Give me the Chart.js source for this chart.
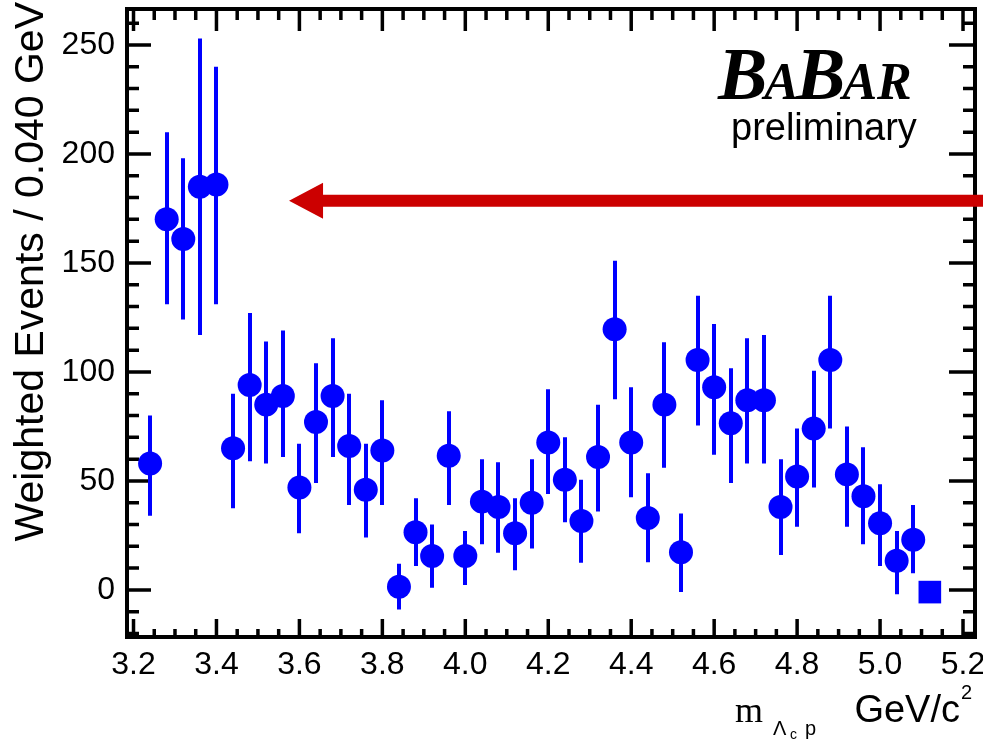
<!DOCTYPE html>
<html>
<head>
<meta charset="utf-8">
<script src="https://cdn.jsdelivr.net/npm/chart.js@4.4.1/dist/chart.umd.min.js"></script>
<style>
  body { margin: 0; background: #fff; }
  #wrap { width: 983px; height: 740px; }
</style>
</head>
<body>
<div id="wrap"><canvas id="massChart" width="983" height="740"></canvas></div>
<script>
// bin centres (GeV/c^2), 0.040 GeV wide
const mass = [3.24, 3.28, 3.32, 3.36, 3.40, 3.44, 3.48, 3.52, 3.56, 3.60, 3.64, 3.68,
              3.72, 3.76, 3.80, 3.84, 3.88, 3.92, 3.96, 4.00, 4.04, 4.08, 4.12, 4.16,
              4.20, 4.24, 4.28, 4.32, 4.36, 4.40, 4.44, 4.48, 4.52, 4.56, 4.60, 4.64,
              4.68, 4.72, 4.76, 4.80, 4.84, 4.88, 4.92, 4.96, 5.00, 5.04, 5.08, 5.12];
const events = [58, 170, 161, 185, 186, 65, 94, 85, 89, 47, 77, 89,
                66, 46, 64, 1.5, 26.5, 15.6, 61.5, 15.6, 40.5, 38, 26, 40,
                67.6, 50.5, 31.6, 61, 119.6, 67.6, 33, 85, 17.3, 105.5, 93, 76.5,
                87, 87, 38, 52, 74, 105.5, 53, 43, 30.6, 13.4, 23, -1];
const errUp = [22, 40, 37, 68, 54, 25, 33, 29, 30, 20, 27, 26.5,
               24, 21, 23, 10.5, 15.5, 14.4, 20.5, 11.4, 19.5, 20.6, 16, 20,
               24.4, 19.5, 18.9, 24, 31.4, 25.4, 20.5, 28.6, 17.7, 29.5, 29, 25.2,
               28.5, 30, 22, 22, 26.5, 29.5, 22, 22.5, 17.9, 13.6, 16, 0];
const errDown = [24, 39, 37, 68, 55, 27.5, 35, 27, 28, 21, 28, 28,
                 27, 22, 25, 10.5, 15.5, 14.6, 22.5, 13.3, 19.5, 21, 17, 21,
                 23.6, 19.5, 19.1, 25, 32.1, 25.1, 20.3, 29, 18.3, 30.1, 31, 27.5,
                 29, 29, 22, 23, 27, 31.5, 24, 22, 19.6, 15.4, 15.4, 0];
const xTickStep = 0.2;
const yTickStep = 50;

const BLUE = '#0000ff';
const binHalf = 0.02;

const errorBars = {
    id: 'errorBars',
    beforeDatasetsDraw(chart) {
        const ctx = chart.ctx, xs = chart.scales.x, ys = chart.scales.y;
        ctx.save();
        ctx.strokeStyle = BLUE;
        ctx.lineWidth = 4;
        mass.forEach((m, i) => {
            if (errUp[i] === 0 && errDown[i] === 0) return;
            const px = Math.round(xs.getPixelForValue(m));
            const py = ys.getPixelForValue(events[i]);
            ctx.beginPath();
            ctx.moveTo(px, ys.getPixelForValue(events[i] + errUp[i]));
            ctx.lineTo(px, ys.getPixelForValue(events[i] - errDown[i]));
            ctx.moveTo(xs.getPixelForValue(m - binHalf), py);
            ctx.lineTo(xs.getPixelForValue(m + binHalf), py);
            ctx.stroke();
        });
        ctx.restore();
    }
};

// frame with inward ticks on all four sides
const frame = {
    id: 'frame',
    beforeDatasetsDraw(chart) {
        const ctx = chart.ctx, a = chart.chartArea;
        const xs = chart.scales.x, ys = chart.scales.y;
        ctx.save();
        ctx.strokeStyle = '#000';
        ctx.lineWidth = 4;
        ctx.strokeRect(a.left, a.top, a.right - a.left, a.bottom - a.top);
        ctx.lineWidth = 3.5;
        ctx.beginPath();
        const isMajor = (v, step) => Math.abs(v / step - Math.round(v / step)) < 1e-6;
        for (let v = 3.15; v <= 5.25; v += 0.05) {
            const val = Math.round(v * 100) / 100;
            if (val < xs.min || val > xs.max) continue;
            const px = xs.getPixelForValue(val);
            const maj = isMajor(val, xTickStep);
            ctx.moveTo(px, a.bottom); ctx.lineTo(px, a.bottom - (maj ? 18 : 8));
            ctx.moveTo(px, a.top); ctx.lineTo(px, a.top + (maj ? 22 : 11));
        }
        for (let v = -20; v <= 260; v += 10) {
            const py = ys.getPixelForValue(v);
            const maj = isMajor(v, yTickStep);
            ctx.moveTo(a.left, py); ctx.lineTo(a.left + (maj ? 24 : 12), py);
            ctx.moveTo(a.right, py); ctx.lineTo(a.right - (maj ? 26 : 12), py);
        }
        ctx.stroke();
        ctx.restore();
    }
};

const decorations = {
    id: 'decorations',
    afterDraw(chart) {
        const ctx = chart.ctx, xs = chart.scales.x, ys = chart.scales.y;
        ctx.save();
        ctx.fillStyle = '#000';

        // y axis title
        ctx.save();
        ctx.translate(43, 2);
        ctx.rotate(-Math.PI / 2);
        ctx.textAlign = 'right';
        ctx.font = '41px "Liberation Sans"';
        ctx.fillText('Weighted Events / 0.040 GeV', 0, 0);
        ctx.restore();

        // x axis title
        ctx.textAlign = 'left';
        ctx.font = '36px "Liberation Serif"';
        ctx.fillText('m', 735, 722);
        ctx.font = '20px "Liberation Sans"';
        ctx.fillText('\u039B', 773, 735);
        ctx.font = '14px "Liberation Sans"';
        ctx.fillText('c', 790, 739);
        ctx.font = '20px "Liberation Sans"';
        ctx.fillText('p', 805, 735);
        ctx.textAlign = 'right';
        ctx.font = '38px "Liberation Sans"';
        ctx.fillText('GeV/c', 960, 722);
        ctx.textAlign = 'left';
        ctx.font = '20px "Liberation Sans"';
        ctx.fillText('2', 961, 699);

        // BaBar logo
        let x = 718;
        const parts = [['B', 74], ['A', 52], ['B', 74], ['AR', 52]];
        parts.forEach(([t, s]) => {
            ctx.font = 'italic bold ' + s + 'px "Liberation Serif"';
            ctx.fillText(t, x, 99);
            x += ctx.measureText(t).width - 3;
        });
        ctx.font = '38px "Liberation Sans"';
        ctx.fillText('preliminary', 731, 140);

        // red arrow
        const tipX = xs.getPixelForValue(3.575);
        const ay = ys.getPixelForValue(178.5);
        ctx.fillStyle = '#cc0000';
        ctx.beginPath();
        ctx.moveTo(tipX, ay);
        ctx.lineTo(tipX + 34, ay - 18);
        ctx.lineTo(tipX + 34, ay - 6);
        ctx.lineTo(chart.width, ay - 6);
        ctx.lineTo(chart.width, ay + 6);
        ctx.lineTo(tipX + 34, ay + 6);
        ctx.lineTo(tipX + 34, ay + 18);
        ctx.closePath();
        ctx.fill();
        ctx.restore();
    }
};

const points = mass.map((m, i) => ({ x: m, y: events[i] }));

const noPad = s => {
    s.paddingLeft = 0; s.paddingRight = 0; s.paddingTop = 0; s.paddingBottom = 0;
};

new Chart(document.getElementById('massChart').getContext('2d'), {
    type: 'scatter',
    data: {
        datasets: [{
            data: points,
            backgroundColor: BLUE,
            borderWidth: 0,
            pointStyle: c => (errUp[c.dataIndex] === 0 ? 'rect' : 'circle'),
            pointRadius: c => (errUp[c.dataIndex] === 0 ? 16 : 12)
        }]
    },
    options: {
        responsive: false,
        animation: false,
        events: [],
        layout: { autoPadding: false, padding: { top: 9, right: 8, left: 0, bottom: 0 } },
        plugins: { legend: { display: false }, tooltip: { enabled: false } },
        scales: {
            x: {
                type: 'linear',
                min: 3.1843,
                max: 5.2289,
                grid: { display: false, drawTicks: false },
                border: { display: false },
                ticks: {
                    stepSize: xTickStep,
                    includeBounds: false,
                    padding: 9,
                    color: '#000',
                    font: { family: 'Liberation Sans', size: 32 },
                    callback: v => v.toFixed(1)
                },
                afterFit: s => { s.height = 103; noPad(s); }
            },
            y: {
                min: -21.6,
                max: 266.5,
                grid: { display: false, drawTicks: false },
                border: { display: false },
                ticks: {
                    stepSize: yTickStep,
                    includeBounds: false,
                    padding: 12,
                    color: '#000',
                    font: { family: 'Liberation Sans', size: 32 }
                },
                afterFit: s => { s.width = 127; noPad(s); }
            }
        }
    },
    plugins: [frame, errorBars, decorations]
});
</script>
</body>
</html>
